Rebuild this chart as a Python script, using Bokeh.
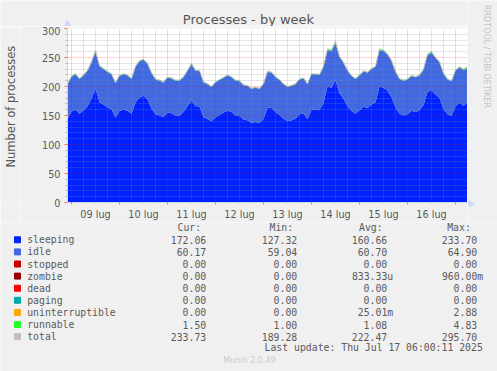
import math
import pandas as pd
from bokeh.plotting import figure
from bokeh.layouts import row, column
from bokeh.models import ColumnDataSource, Range1d, FixedTicker
from bokeh.core.properties import value
from bokeh.transform import stack
from bokeh.embed import file_html
from bokeh.resources import INLINE

# ---------------- data ----------------
start_time = "2025-07-08 22:00"
step = "2h"

sleeping = [144, 157, 160, 153, 159, 166, 179, 197, 173, 169, 164, 161, 146, 158, 160, 158, 153, 173, 181, 184, 178, 162, 152, 150, 147,
            155, 154, 150, 150, 156, 166, 176, 166, 166, 147, 144, 140, 147, 151, 155, 158, 156, 150, 149, 143, 142, 137, 139, 137, 144,
            164, 163, 156, 151, 145, 140, 142, 145, 152, 154, 144, 160, 160, 159, 172, 200, 198, 211, 188, 179, 166, 158, 153, 159, 165,
            163, 169, 173, 200, 198, 193, 182, 164, 153, 150, 152, 158, 156, 159, 168, 191, 194, 186, 180, 161, 152, 149, 166, 172, 167, 172]
idle = [60, 60, 61, 60, 60, 61, 62, 63, 62, 61, 61, 60, 60, 60, 61, 61, 60, 61, 62, 62, 61, 61, 60, 60, 60,
        60, 60, 60, 60, 60, 61, 62, 61, 61, 60, 60, 59, 60, 60, 60, 61, 60, 60, 60, 59, 59, 59, 59, 59, 60,
        61, 61, 60, 60, 59, 59, 59, 59, 60, 60, 60, 61, 61, 61, 62, 63, 63, 64, 63, 62, 61, 60, 60, 60, 61,
        61, 61, 61, 63, 63, 62, 62, 61, 60, 60, 60, 60, 60, 60, 61, 63, 64, 63, 62, 61, 60, 60, 61, 61, 61, 60]
runnable = [1, 1, 1, 1, 1, 1, 2, 2, 1, 1, 1, 1, 1, 1, 1, 1, 1, 1, 2, 1, 1, 1, 1, 1, 1,
            1, 1, 1, 1, 1, 1, 2, 1, 1, 1, 1, 1, 1, 1, 1, 1, 1, 1, 1, 1, 1, 1, 1, 1, 1,
            1, 1, 1, 1, 1, 1, 1, 1, 1, 1, 1, 1, 1, 1, 1, 2, 2, 3, 1, 1, 1, 1, 1, 1, 1,
            1, 1, 1, 2, 2, 1, 1, 1, 1, 1, 1, 1, 1, 1, 1, 2, 2, 1, 1, 1, 1, 1, 1, 1, 2, 2]

day_labels = ["09 lug", "10 lug", "11 lug", "12 lug", "13 lug", "14 lug", "15 lug", "16 lug"]
y_ticks = [0, 50, 100, 150, 200, 250, 300]

title_text = "Processes - by week"
y_label = "Number of processes"
side_text = "RRDTOOL / TOBI OETIKER"
footer_text = "Munin 2.0.49"

series_names = ["sleeping", "idle", "stopped", "zombie", "dead", "paging", "uninterruptible", "runnable", "total"]
series_colors = ["#0022ff", "#4169e1", "#cc0000", "#990000", "#ff0000", "#00aaaa", "#ffa500", "#22ff22", "#c0c0c0"]
stat_headers = ["Cur:", "Min:", "Avg:", "Max:"]
cur_vals = ["172.06", "60.17", "0.00", "0.00", "0.00", "0.00", "0.00", "1.50", "233.73"]
min_vals = ["127.32", "59.04", "0.00", "0.00", "0.00", "0.00", "0.00", "1.00", "189.28"]
avg_vals = ["160.66", "60.70", "0.00", "833.33u", "0.00", "0.00", "25.01m", "1.08", "222.47"]
max_vals = ["233.70", "64.90", "0.00", "960.00m", "0.00", "0.00", "2.88", "4.83", "295.70"]
last_update = "Last update: Thu Jul 17 06:00:11 2025"

# ---------------- style ----------------
BG = "#f0f0f0"
TXT = "#5a5a5a"
AXC = "#CFD6F8"


def pixel_fig(w, h):
    """A figure whose frame is its whole canvas, with pixel-like ranges (y downwards)."""
    f = figure(width=w, height=h, output_backend="svg", toolbar_location=None, title=None,
               x_range=Range1d(0, w), y_range=Range1d(h, 0),
               x_axis_location=None, y_axis_location=None,
               min_border=0, min_border_left=0, min_border_right=0, min_border_top=0, min_border_bottom=0,
               background_fill_color=BG, border_fill_color=BG, outline_line_color=None)
    f.xgrid.visible = False
    f.ygrid.visible = False
    return f


def txt(f, xs, ys, texts, size, font="DejaVu Sans Mono", color=TXT, align="left", angle=0.0):
    f.text(x=xs, y=ys, text=texts, text_font=value(font), text_font_size=value(size),
           text_color=color, text_align=value(align), text_baseline=value("middle"), angle=angle)


# ---------------- chart ----------------
times = pd.date_range(start_time, periods=len(sleeping), freq=step)
src = ColumnDataSource(dict(time=times, sleeping=sleeping, idle=idle, runnable=runnable))

epoch = pd.Timestamp("1970-01-01")


def ms(ts):
    return float((ts - epoch) / pd.Timedelta("1ms"))


days = pd.date_range("2025-07-09", periods=len(day_labels), freq="D")
noons = [ms(d + pd.Timedelta("12h")) for d in days]
midnights = [ms(d) for d in pd.date_range("2025-07-09", periods=len(day_labels) + 1, freq="D")]
six_h = [ms(t) for t in pd.date_range("2025-07-09", times[-1], freq="6h") if t.hour != 0]

p = figure(width=447, height=196, output_backend="svg", toolbar_location=None, title=None,
           x_range=Range1d(ms(times[0]), ms(times[-1])), y_range=Range1d(0, 300),
           min_border_left=47, min_border_right=0, min_border_top=2, min_border_bottom=19,
           background_fill_color="white", border_fill_color=BG, outline_line_color=None)

p.varea_stack(stackers=["sleeping", "idle", "runnable"], x="time",
              color=["#0022ff", "#4169e1", "#22ff22"], source=src)
p.line(x="time", y=stack("sleeping", "idle", "runnable"), source=src, color="#c0c0c0", line_width=1)

p.xaxis.ticker = FixedTicker(ticks=noons, minor_ticks=midnights)
p.xaxis.major_label_overrides = {t: l for t, l in zip(noons, day_labels)}
p.xaxis.major_tick_line_color = None
p.xaxis.major_tick_out = 0
p.xaxis.major_tick_in = 0
p.xaxis.minor_tick_line_color = "#ff7070"
p.xaxis.minor_tick_out = 2
p.xaxis.minor_tick_in = 0
p.xaxis.major_label_standoff = 4
p.xaxis.axis_line_color = AXC

p.yaxis.ticker = FixedTicker(ticks=y_ticks, minor_ticks=[v for v in range(0, 301, 10) if v % 50])
p.yaxis.major_tick_line_color = "#ff7070"
p.yaxis.major_tick_out = 3
p.yaxis.major_tick_in = 0
p.yaxis.minor_tick_line_color = "#bbbbbb"
p.yaxis.minor_tick_out = 2
p.yaxis.minor_tick_in = 0
p.yaxis.major_label_standoff = 4
p.yaxis.axis_line_color = AXC
for ax in (p.xaxis, p.yaxis):
    ax.major_label_text_font = "DejaVu Sans"
    ax.major_label_text_font_size = "9.7px"
    ax.major_label_text_color = TXT

p.xgrid.ticker = FixedTicker(ticks=midnights, minor_ticks=six_h)
for g in (p.xgrid, p.ygrid):
    g.level = "overlay"
    g.grid_line_color = "#ff0000"
    g.grid_line_alpha = 0.35
    g.grid_line_dash = "1 1"
    g.minor_grid_line_color = "#8c8c8c"
    g.minor_grid_line_alpha = 0.45
    g.minor_grid_line_dash = "1 1"

# ---------------- surrounding text strips ----------------
title_fig = pixel_fig(467, 26)
txt(title_fig, [248], [19], [title_text], "13px", font="DejaVu Sans", color="#555555", align="center")
title_fig.scatter(x=[67], y=[23.5], marker="triangle", size=6, color=AXC)
title_fig.segment(x0=[67], y0=[24], x1=[67], y1=[26], color=AXC)

ylab_fig = pixel_fig(20, 196)
txt(ylab_fig, [10], [88], [y_label], "11.5px", font="DejaVu Sans", color="#555555", align="center",
    angle=math.pi / 2)

side_fig = pixel_fig(30, 222)
txt(side_fig, [18.5], [56], [side_text], "8px", font="DejaVu Sans", color="#c4c4c4", align="center",
    angle=-math.pi / 2)
side_fig.scatter(x=[3.5], y=[203.4], marker="triangle", angle=-math.pi / 2, size=6, color=AXC)
side_fig.segment(x0=[0], y0=[203], x1=[2], y1=[203], color=AXC)

# ---------------- legend table ----------------
leg = pixel_fig(497, 149)
off = 222
row_y = [239.3 - off + i * 12.1 for i in range(len(series_names))]
leg.rect(x=[17] * len(series_names), y=row_y, width=6, height=6, color=series_colors)
txt(leg, [26.7] * len(series_names), row_y, series_names, "9.8px")
txt(leg, [177, 269, 358.5, 446.7], [227.2 - off] * 4, stat_headers, "9.8px")
edges = [205.7, 296.7, 386.7, 476.7]
for vals, e in zip([cur_vals, min_vals, avg_vals, max_vals], edges):
    xs = [e + 6 if v[-1].isalpha() else e for v in vals]
    txt(leg, xs, row_y, vals, "9.8px", align="right")
txt(leg, [482.3], [347.3 - off], [last_update], "9.8px", align="right")
txt(leg, [249], [360 - off], [footer_text], "8px", font="DejaVu Sans", color="#cccccc", align="center")

layout = column(row(column(title_fig, row(ylab_fig, p)), side_fig), leg)
open("out.html", "w").write(file_html(layout, INLINE))
